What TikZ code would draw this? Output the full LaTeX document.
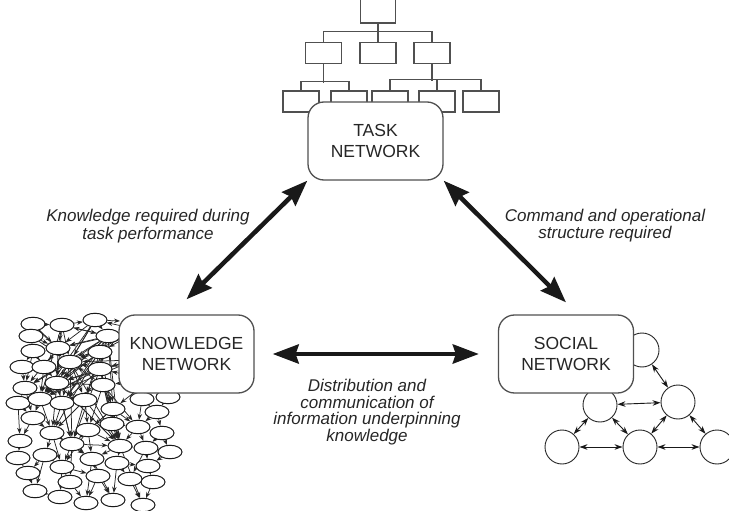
\documentclass[tikz,border=0pt]{standalone}
\usepackage{fontspec}
\setmainfont{Liberation Sans}
\usetikzlibrary{arrows.meta,shapes.geometric,calc}
\pgfdeclarelayer{bg}
\pgfsetlayers{bg,main}
\definecolor{ink}{HTML}{262626}
\definecolor{boxgray}{HTML}{505050}
\tikzset{
 netbox/.style={draw=boxgray, line width=1.3pt, rounded corners=16pt, fill=white, minimum width=135pt, minimum height=78pt, align=center, text=ink, font=\fontsize{17.5}{20.5}\selectfont, inner sep=0pt},
 tbox/.style={draw=boxgray, line width=1.1pt, fill=white, minimum width=36pt, minimum height=21pt, inner sep=0pt},
 tline/.style={draw=boxgray, line width=1.1pt},
 bigarrow/.style={line width=4.5pt, draw=black!90, {Stealth[length=26pt,width=19pt,inset=3pt]}-{Stealth[length=26pt,width=19pt,inset=3pt]}},
 kn/.style={ellipse, draw=black!90, line width=1pt, fill=white, minimum width=24pt, minimum height=13.5pt, inner sep=0pt},
 ke/.style={draw=black!85, line width=0.75pt, -{Stealth[length=6pt,width=4.5pt]}},
 sn/.style={circle, draw=black!85, line width=0.9pt, fill=white, minimum size=34pt, inner sep=0pt},
 se/.style={draw=black!90, line width=0.9pt, {Stealth[length=8pt,width=5.5pt]}-{Stealth[length=8pt,width=5.5pt]}},
 lab/.style={align=center, text=ink, font=\fontsize{17}{17.5}\selectfont\itshape},
}
\begin{document}
\begin{tikzpicture}[x=1pt,y=-1pt]
\useasboundingbox (0,0) rectangle (729,511);
\clip (0,0) rectangle (729,511);
% ---------- task hierarchy ----------
\node[tbox, minimum width=35pt, minimum height=36pt] (T0) at (378,5) {};
\node[tbox] (T1) at (323.5,53) {};
\node[tbox] (T2) at (378,53) {};
\node[tbox] (T3) at (432,53) {};
\node[tbox] (T11) at (301,101.5) {};
\node[tbox] (T12) at (349,101.5) {};
\node[tbox] (T31) at (390,101.5) {};
\node[tbox] (T32) at (437,101.5) {};
\node[tbox] (T33) at (481,101.5) {};
\draw[tline] (T0.south) -- (T2.north);
\draw[tline] (T1.north) -- ++(0,-10) -| (T3.north);
\draw[tline] (T1.south) -- ++(0,19);
\draw[tline] (T11.north) -- ++(0,-9) -| (T12.north);
\draw[tline] (T3.south) -- ++(0,17);
\draw[tline] (T31.north) -- ++(0,-11) -| (T33.north);
\draw[tline] (T32.north) -- ++(0,-11);
\node[netbox] (task) at (375.5,141) {TASK\\NETWORK};
% ---------- knowledge network ----------
\foreach \n/\x/\y in {k1/33/324,k2/62/325,k3/95/320,k4/31/336,k5/33/351,k6/58/348,k7/22/367,k8/44/367,k9/70/362,k10/100/352,k11/108/336,k12/100/369,k13/25/388,k14/57/383,k15/103/385,k16/18/403,k17/40/399,k18/62/403,k19/85/400,k20/113/409,k21/33/418,k22/52/433,k23/20/441,k24/72/444,k26/88/430,k27/112/424,k28/45/455,k29/18/458,k30/28/473,k31/62/467,k32/70/482,k34/35/491,k35/60/497,k36/86/503,k37/138/427,k38/157/412,k39/168/397,k40/162/433,k41/120/446,k42/146/448,k43/170/452,k44/92/459,k45/117/463,k46/98/476,k47/148/466,k48/153/482,k49/130/479,k50/113/500,k51/143/505,k52/142/399}
  \node[kn] (\n) at (\x,\y) {};
\coordinate (kb0) at (120,321);
\coordinate (kb1) at (140,330);
\coordinate (kb2) at (150,380);
\coordinate (kb3) at (135,360);
\begin{pgfonlayer}{bg}
\foreach \a/\b in {k1/k2,k2/k3,k3/k11,k1/k9,k2/k9,k3/k9,k4/k9,k4/k5,k2/k6,k1/k6,k3/k6,k11/k9,k11/k6,k11/k2,k5/k7,k5/k8,k6/k8,k6/k14,k9/k14,k10/k9,k12/k9,k11/k14,k11/k17,k11/k13,k10/k17,k3/k14,k9/k13,k9/k17,k2/k17,k5/k14,k7/k13,k8/k17,k13/k16,k14/k17,k14/k18,k15/k14,k15/k9,k12/k18,k10/k19,k11/k19,k9/k19,k12/k20,k15/k20,k11/k20,k11/k12,k10/k15,k16/k21,k17/k21,k13/k21,k17/k22,k18/k22,k19/k24,k14/k24,k9/k24,k11/k22,k21/k23,k16/k23,k22/k28,k23/k29,k24/k31,k22/k31,k26/k31,k20/k26,k20/k27,k19/k26,k28/k30,k29/k30,k30/k34,k31/k35,k28/k34,k24/k32,k32/k36,k44/k36,k26/k44,k27/k41,k9/k41,k10/k41,k14/k41,k12/k41,k15/k41,k11/k41,k19/k41,k20/k41,k37/k41,k52/k38,k39/k38,k38/k40,k52/k37,k38/k37,k41/k42,k42/k47,k40/k43,k43/k47,k41/k45,k41/k44,k45/k49,k47/k48,k41/k51,k44/k50,k46/k36,k45/k50,k42/k49,k37/k42,k40/k42,k24/k44,k31/k46,k44/k46,k22/k24,k3/kb0,kb1/k11,kb1/k10,kb2/k52,kb2/k39,kb2/k20,kb2/k15,kb1/k9,kb2/k12,kb3/k9,kb3/k14,kb3/k17,kb1/k6,kb1/k3,kb3/k12,k4/k6,k1/k4,k2/k11,k6/k9,k10/k14,k12/k14,k9/k18,k10/k18,k11/k18,k3/k17,k2/k14,k6/k13,k5/k13,k15/k18,k12/k17,k17/k18,k13/k17,k18/k24,k19/k22,k20/k24,k21/k22,k15/k26,k14/k22,k12/k24,k27/k37,k26/k41,k24/k41,k22/k44,k28/k31,k34/k35,k31/k32,k46/k50,k45/k47,k49/k51,k48/k51,k42/k43,k20/k37,k15/k37,k12/k27}
  \draw[ke] (\a) -- (\b);
\end{pgfonlayer}
\node[netbox] (know) at (186.5,354) {KNOWLEDGE\\NETWORK};
% ---------- social network ----------
\node[sn] (s1) at (642,350) {};
\node[sn] (s2) at (600,405) {};
\node[sn] (s3) at (678,402) {};
\node[sn] (s4) at (562,447) {};
\node[sn] (s5) at (640,447) {};
\node[sn] (s6) at (717,447) {};
\foreach \a/\b in {s1/s3,s2/s3,s2/s4,s2/s5,s3/s5,s3/s6,s4/s5,s5/s6}
  \draw[se] (\a) -- (\b);
\node[netbox] (soc) at (566,354) {SOCIAL\\NETWORK};
% ---------- relations ----------
\draw[bigarrow] ([yshift=15pt]know.north) -- (task.south west);
\draw[bigarrow] (task.south east) -- ([yshift=12pt]soc.north);
\draw[bigarrow] ([xshift=18pt]know.east) -- ([xshift=-19pt]soc.west);
\node[lab] (l1) at (148,226) {Knowledge required during\\task performance};
\node[lab] (l2) at (605,225.5) {Command and operational\\structure required};
\node[lab, font=\fontsize{17}{16.7}\selectfont\itshape] (l3) at (367,412) {Distribution and\\communication of\\information underpinning\\knowledge};
\end{tikzpicture}
\end{document}
